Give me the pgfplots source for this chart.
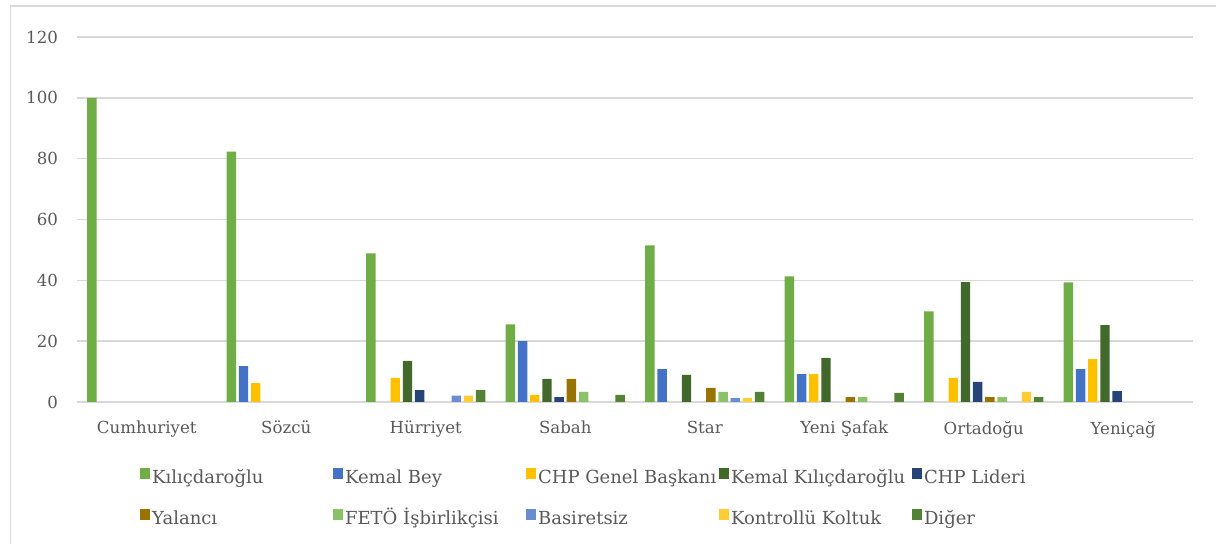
\documentclass[border=0pt]{standalone}
\usepackage{fontspec}
\setmainfont{DejaVu Serif}
\usepackage{pgfplots}
\pgfplotsset{compat=1.18}
\definecolor{gridgray}{HTML}{D9D9D9}
\definecolor{textgray}{HTML}{595959}
\definecolor{c1}{HTML}{70AD47}
\definecolor{c2}{HTML}{4472C4}
\definecolor{c3}{HTML}{FFC000}
\definecolor{c4}{HTML}{43682B}
\definecolor{c5}{HTML}{264478}
\definecolor{c6}{HTML}{997300}
\definecolor{c7}{HTML}{8BC168}
\definecolor{c8}{HTML}{698ED0}
\definecolor{c9}{HTML}{FFCD33}
\definecolor{c10}{HTML}{548235}
\pgfplotsset{sqlegend/.style={legend image code/.code={\fill[##1] (0pt,0.3pt) rectangle (5pt,5.8pt);}}}
\newcommand\LE[1]{\makebox[89.5pt][l]{#1}}
\begin{document}
\begin{tikzpicture}
\useasboundingbox (0,0) rectangle (608pt,272pt);
\draw[color=gridgray, line width=0.9pt] (5.25pt,0) -- (5.25pt,269pt) -- (608pt,269pt);
\begin{axis}[
  at={(38.5pt,71pt)}, anchor=south west,
  scale only axis, width=558pt, height=182.5pt,
  ybar=1.4pt, bar width=4.7pt,
  xmin=-0.5, xmax=7.5, ymin=0, ymax=120,
  xtick={0,...,7},
  xticklabels={Cumhuriyet, Sözcü, Hürriyet, Sabah, Star, Yeni Şafak, Ortadoğu, Yeniçağ},
  ytick={0,20,...,120},
  ymajorgrids, grid style={color=gridgray, line width=0.75pt},
  axis x line*=bottom, axis y line*=left,
  y axis line style={draw=none},
  x axis line style={color=gridgray, line width=0.75pt},
  major tick length=0pt,
  tick label style={font=\fontsize{8.3}{10}\selectfont, color=textgray},
  yticklabel style={xshift=-6pt},
  xticklabel style={yshift=-6pt},
  /pgf/number format/assume math mode=true,
  every axis plot post/.append style={sqlegend, draw=none},
  legend columns=5,
  legend cell align=left,
  legend style={at={(0.0565,-0.180)}, anchor=north west, draw=none, fill=none,
    inner sep=0pt, outer sep=0pt, column sep=0pt, row sep=10.4pt,
    font=\fontsize{9}{10}\selectfont, text=textgray,
    nodes={inner xsep=1pt, inner ysep=0pt, text height=6.3pt, text depth=2.2pt}},
]
\addplot[fill=c1] coordinates {(0,100) (1,82.3) (2,48.9) (3,25.5) (4,51.5) (5,41.3) (6,29.8) (7,39.3)};
\addlegendentry{\LE{Kılıçdaroğlu}}
\addplot[fill=c2] coordinates {(1,11.8) (3,20) (4,10.8) (5,9.2) (7,10.8)};
\addlegendentry{\LE{Kemal Bey}}
\addplot[fill=c3] coordinates {(1,6.2) (2,7.9) (3,2.3) (5,9.2) (6,7.9) (7,14.1)};
\addlegendentry{\LE{CHP Genel Başkanı}}
\addplot[fill=c4] coordinates {(2,13.5) (3,7.6) (4,8.9) (5,14.5) (6,39.4) (7,25.3)};
\addlegendentry{\LE{Kemal Kılıçdaroğlu}}
\addplot[fill=c5] coordinates {(2,3.9) (3,1.6) (6,6.6) (7,3.6)};
\addlegendentry{\LE{CHP Lideri}}
\addplot[fill=c6] coordinates {(3,7.6) (4,4.6) (5,1.6) (6,1.6)};
\addlegendentry{\LE{Yalancı}}
\addplot[fill=c7] coordinates {(3,3.3) (4,3.3) (5,1.6) (6,1.6)};
\addlegendentry{\LE{FETÖ İşbirlikçisi}}
\addplot[fill=c8] coordinates {(2,2.1) (4,1.3)};
\addlegendentry{\LE{Basiretsiz}}
\addplot[fill=c9] coordinates {(2,2.1) (4,1.3) (6,3.3)};
\addlegendentry{\LE{Kontrollü Koltuk}}
\addplot[fill=c10] coordinates {(2,3.9) (3,2.3) (4,3.3) (5,3.0) (6,1.6)};
\addlegendentry{\LE{Diğer}}
\end{axis}
\end{tikzpicture}
\end{document}
